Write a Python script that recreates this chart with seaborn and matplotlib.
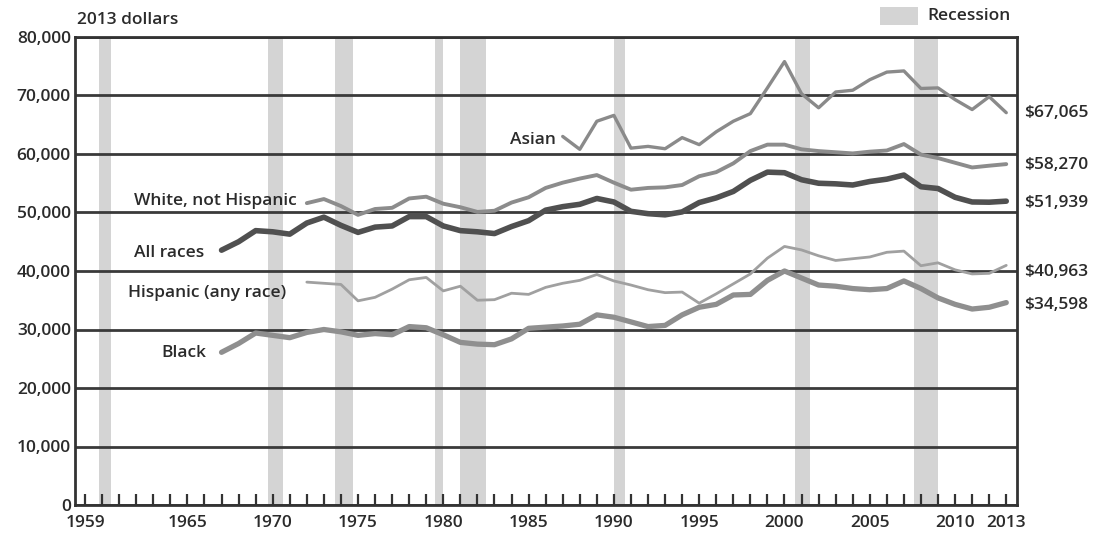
import numpy as np
import pandas as pd
import seaborn as sns
from matplotlib import pyplot as plt
from matplotlib.patches import Rectangle
from matplotlib.ticker import FuncFormatter, MultipleLocator, FixedLocator

# median household income, 2013 dollars
years_all = list(range(1967, 2014))
all_races = [43558, 45000, 46900, 46700, 46300, 48200, 49200, 47800, 46600, 47500,
             47700, 49300, 49300, 47700, 46900, 46700, 46400, 47600, 48600, 50400,
             51000, 51400, 52400, 51800, 50200, 49800, 49600, 50100, 51700, 52500,
             53600, 55500, 56900, 56800, 55600, 55000, 54900, 54700, 55300, 55700,
             56400, 54400, 54100, 52600, 51800, 51760, 51939]
black = [26100, 27600, 29400, 29000, 28600, 29500, 30000, 29600, 29000, 29300,
         29100, 30500, 30300, 29100, 27800, 27500, 27400, 28400, 30200, 30400,
         30600, 30900, 32500, 32100, 31300, 30500, 30700, 32500, 33800, 34300,
         35900, 36000, 38400, 40000, 38800, 37600, 37400, 37000, 36800, 37000,
         38300, 37000, 35400, 34300, 33500, 33800, 34598]

years_72 = list(range(1972, 2014))
white_nh = [51600, 52300, 51100, 49600, 50600, 50800, 52400, 52700, 51500, 50900,
            50100, 50300, 51700, 52600, 54200, 55100, 55800, 56400, 55100, 53900,
            54200, 54300, 54700, 56200, 56900, 58400, 60500, 61600, 61600, 60800,
            60500, 60300, 60100, 60400, 60600, 61700, 59900, 59300, 58500, 57700,
            58000, 58270]
hispanic = [38100, 37900, 37700, 34900, 35500, 36900, 38500, 38900, 36600, 37400,
            35000, 35100, 36200, 36000, 37200, 37900, 38400, 39400, 38300, 37600,
            36800, 36300, 36400, 34500, 36100, 37800, 39500, 42200, 44200, 43600,
            42600, 41800, 42100, 42400, 43200, 43400, 40900, 41400, 40200, 39500,
            39600, 40963]

years_87 = list(range(1987, 2014))
asian = [63000, 60800, 65600, 66600, 61000, 61300, 60900, 62800, 61600, 63800,
         65600, 66900, 71300, 75800, 70300, 67900, 70600, 70900, 72700, 74000,
         74200, 71200, 71300, 69300, 67600, 69800, 67065]

recessions = [(1959.8, 1960.5), (1969.75, 1970.6), (1973.65, 1974.7), (1979.5, 1980.0),
              (1981.0, 1982.5), (1990.0, 1990.65), (2000.6, 2001.5), (2007.6, 2009.0)]

year_labels = [1959, 1965, 1970, 1975, 1980, 1985, 1990, 1995, 2000, 2005, 2010, 2013]

sns.set_style("white")
plt.rcParams['font.family'] = ['Open Sans', 'DejaVu Sans']
plt.rcParams['font.weight'] = 'semibold'
txt = '#2b2b2b'

fig = plt.figure(figsize=(11, 5.38), dpi=100)
ax = fig.add_axes([75 / 1100, 1 - 505 / 538, (1017 - 75) / 1100, (505 - 37) / 538])

for a, b in recessions:
    ax.axvspan(a, b, color='#d4d4d4', lw=0, zorder=0)

series = [
    (years_87, asian, '#8a8a8a', 2.4),
    (years_72, white_nh, '#8c8c8c', 2.8),
    (years_72, hispanic, '#a0a0a0', 2.0),
    (years_all, black, '#8f8f8f', 3.8),
    (years_all, all_races, '#505050', 4.0),
]
for xs, ys, col, lw in series:
    sns.lineplot(x=xs, y=ys, color=col, linewidth=lw, ax=ax, zorder=3)

ax.set_xlim(1958.41, 2013.63)
ax.set_ylim(0, 80000)

ax.yaxis.set_major_locator(MultipleLocator(10000))
ax.yaxis.set_major_formatter(FuncFormatter(lambda v, p: f'{int(v):,}'))
ax.grid(axis='y', color='#3a3a3a', linewidth=2)
ax.set_axisbelow('line')

ax.xaxis.set_major_locator(FixedLocator(year_labels))
ax.xaxis.set_minor_locator(MultipleLocator(1))
ax.tick_params(axis='x', which='both', bottom=True, direction='in', length=8,
               width=1.6, color='#333333', pad=7, labelsize=12.5, labelcolor=txt)
ax.tick_params(axis='y', length=0, pad=3, labelsize=12.5, labelcolor=txt)

for s in ax.spines.values():
    s.set_color('#333333')
    s.set_linewidth(2)

# series labels
lab = dict(fontsize=12.5, color=txt, ha='right', va='center')
ax.text(1986.6, 62400, 'Asian', **lab)
ax.text(1971.4, 52000, 'White, not Hispanic', **lab)
ax.text(1966.0, 43100, 'All races', **lab)
ax.text(1970.8, 36200, 'Hispanic (any race)', **lab)
ax.text(1966.1, 26000, 'Black', **lab)

end_labels = [('$67,065', 67000), ('$58,270', 58100), ('$51,939', 51600),
              ('$40,963', 39800), ('$34,598', 34200)]
for s, yv in end_labels:
    ax.text(1.008, yv, s, transform=ax.get_yaxis_transform(), fontsize=12.5,
            color=txt, ha='left', va='center')

fig.text(77 / 1100, 1 - 20 / 538, '2013 dollars', fontsize=12.5, color=txt,
         ha='left', va='center')
fig.patches.append(Rectangle((880 / 1100, 1 - 25 / 538), 38 / 1100, 18 / 538,
                             transform=fig.transFigure, color='#d4d4d4', lw=0))
fig.text(927 / 1100, 1 - 16 / 538, 'Recession', fontsize=12.5, color=txt,
         ha='left', va='center')

fig.savefig('out.png', dpi=100)
